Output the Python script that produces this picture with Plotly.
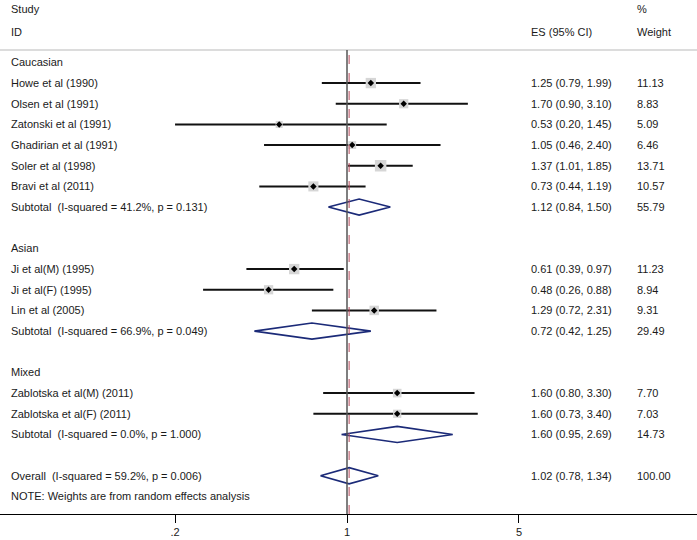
import plotly.graph_objects as go
import numpy as np

# ---- data ----
groups = ["Caucasian", "Asian", "Mixed"]
studies = [
    ["Howe et al (1990)", "Olsen et al (1991)", "Zatonski et al (1991)",
     "Ghadirian et al (1991)", "Soler et al (1998)", "Bravi et al (2011)"],
    ["Ji et al(M) (1995)", "Ji et al(F) (1995)", "Lin et al (2005)"],
    ["Zablotska et al(M) (2011)", "Zablotska et al(F) (2011)"],
]
es = [[1.25, 1.70, 0.53, 1.05, 1.37, 0.73], [0.61, 0.48, 1.29], [1.60, 1.60]]
lo = [[0.79, 0.90, 0.20, 0.46, 1.01, 0.44], [0.39, 0.26, 0.72], [0.80, 0.73]]
hi = [[1.99, 3.10, 1.45, 2.40, 1.85, 1.19], [0.97, 0.88, 2.31], [3.30, 3.40]]
weight = [[11.13, 8.83, 5.09, 6.46, 13.71, 10.57], [11.23, 8.94, 9.31], [7.70, 7.03]]
sub_i2 = ["41.2%", "66.9%", "0.0%"]
sub_p = ["0.131", "0.049", "1.000"]
sub_es = [1.12, 0.72, 1.60]
sub_lo = [0.84, 0.42, 0.95]
sub_hi = [1.50, 1.25, 2.69]
sub_w = [55.79, 29.49, 14.73]
overall_i2, overall_p = "59.2%", "0.006"
overall_es, overall_lo, overall_hi, overall_w = 1.02, 0.78, 1.34, 100.00
tick_vals = [0.2, 1, 5]
tick_text = [".2", "1", "5"]

FONT = "Liberation Sans, Arial, sans-serif"
TXT = "#1a1a1a"
NAVY = "#1b2a78"
X_LEFT, X_ES, X_W = 9 / 697, 529 / 697, 635 / 697

fig = go.Figure()
ann = []

def label(y, text, x=X_LEFT):
    ann.append(dict(x=x, y=y, xref="paper", yref="y", text=text, showarrow=False,
                    xanchor="left", yanchor="middle", font=dict(size=11, color=TXT, family=FONT)))

def diamond(y, e, l, h):
    fig.add_trace(go.Scatter(x=[l, e, h, e, l], y=[y, y - 0.39, y, y + 0.39, y],
                             mode="lines", line=dict(color=NAVY, width=1.6),
                             fill="toself", fillcolor="white", hoverinfo="skip", showlegend=False))

row = 0
for g in range(len(groups)):
    label(row, groups[g])
    row += 1
    for i, name in enumerate(studies[g]):
        label(row, name)
        label(row, f"{es[g][i]:.2f} ({lo[g][i]:.2f}, {hi[g][i]:.2f})", X_ES)
        label(row, f"{weight[g][i]:.2f}", X_W)
        fig.add_trace(go.Scatter(x=[lo[g][i], hi[g][i]], y=[row, row], mode="lines",
                                 line=dict(color="#111111", width=2), hoverinfo="skip", showlegend=False))
        fig.add_trace(go.Scatter(x=[es[g][i]], y=[row], mode="markers",
                                 marker=dict(symbol="square", size=3.1 * np.sqrt(weight[g][i]), color="#d6d6d6"),
                                 hoverinfo="skip", showlegend=False))
        fig.add_trace(go.Scatter(x=[es[g][i]], y=[row], mode="markers",
                                 marker=dict(symbol="diamond", size=5, color="black"),
                                 hoverinfo="skip", showlegend=False))
        row += 1
    label(row, f"Subtotal  (I-squared = {sub_i2[g]}, p = {sub_p[g]})")
    label(row, f"{sub_es[g]:.2f} ({sub_lo[g]:.2f}, {sub_hi[g]:.2f})", X_ES)
    label(row, f"{sub_w[g]:.2f}", X_W)
    diamond(row, sub_es[g], sub_lo[g], sub_hi[g])
    row += 2

label(row, f"Overall  (I-squared = {overall_i2}, p = {overall_p})")
label(row, f"{overall_es:.2f} ({overall_lo:.2f}, {overall_hi:.2f})", X_ES)
label(row, f"{overall_w:.2f}", X_W)
diamond(row, overall_es, overall_lo, overall_hi)
row += 1
label(row, "NOTE: Weights are from random effects analysis")

# headers
for text, x, py in [("Study", X_LEFT, (514 - 9) / 464), ("ID", X_LEFT, (514 - 32) / 464),
                    ("ES (95% CI)", X_ES, (514 - 32) / 464), ("%", X_W, (514 - 9) / 464),
                    ("Weight", X_W, (514 - 32) / 464)]:
    ann.append(dict(x=x, y=py, xref="paper", yref="paper", text=text, showarrow=False,
                    xanchor="left", yanchor="middle", font=dict(size=11, color=TXT, family=FONT)))

shapes = [
    dict(type="line", xref="paper", yref="paper", x0=0, x1=1, y0=1, y1=1,
         line=dict(color="#d0d0d0", width=1.5)),
    dict(type="line", xref="x", yref="paper", x0=1, x1=1, y0=0, y1=1,
         line=dict(color="#555555", width=1.5)),
    dict(type="line", xref="x", yref="paper", x0=overall_es, x1=overall_es, y0=0, y1=1,
         line=dict(color="#b5485a", width=1, dash="dash")),
]

fig.update_layout(
    width=697, height=540,
    margin=dict(l=0, r=0, t=50, b=26),
    paper_bgcolor="white", plot_bgcolor="white",
    annotations=ann, shapes=shapes,
    xaxis=dict(type="log", range=[np.log10(1) - 347 / 246, (697 - 347) / 246],
               tickvals=tick_vals, ticktext=tick_text, ticks="outside", ticklen=8,
               tickcolor="black", showline=True, linecolor="black", linewidth=1,
               showgrid=False, zeroline=False, automargin=False,
               tickfont=dict(size=11, color=TXT, family=FONT)),
    yaxis=dict(range=[21.85, -0.6], visible=False, showgrid=False, zeroline=False),
    showlegend=False,
)

fig.write_html("out.html", config={"displayModeBar": False},
               post_script="document.body.style.margin='0';document.body.style.overflow='hidden';")
